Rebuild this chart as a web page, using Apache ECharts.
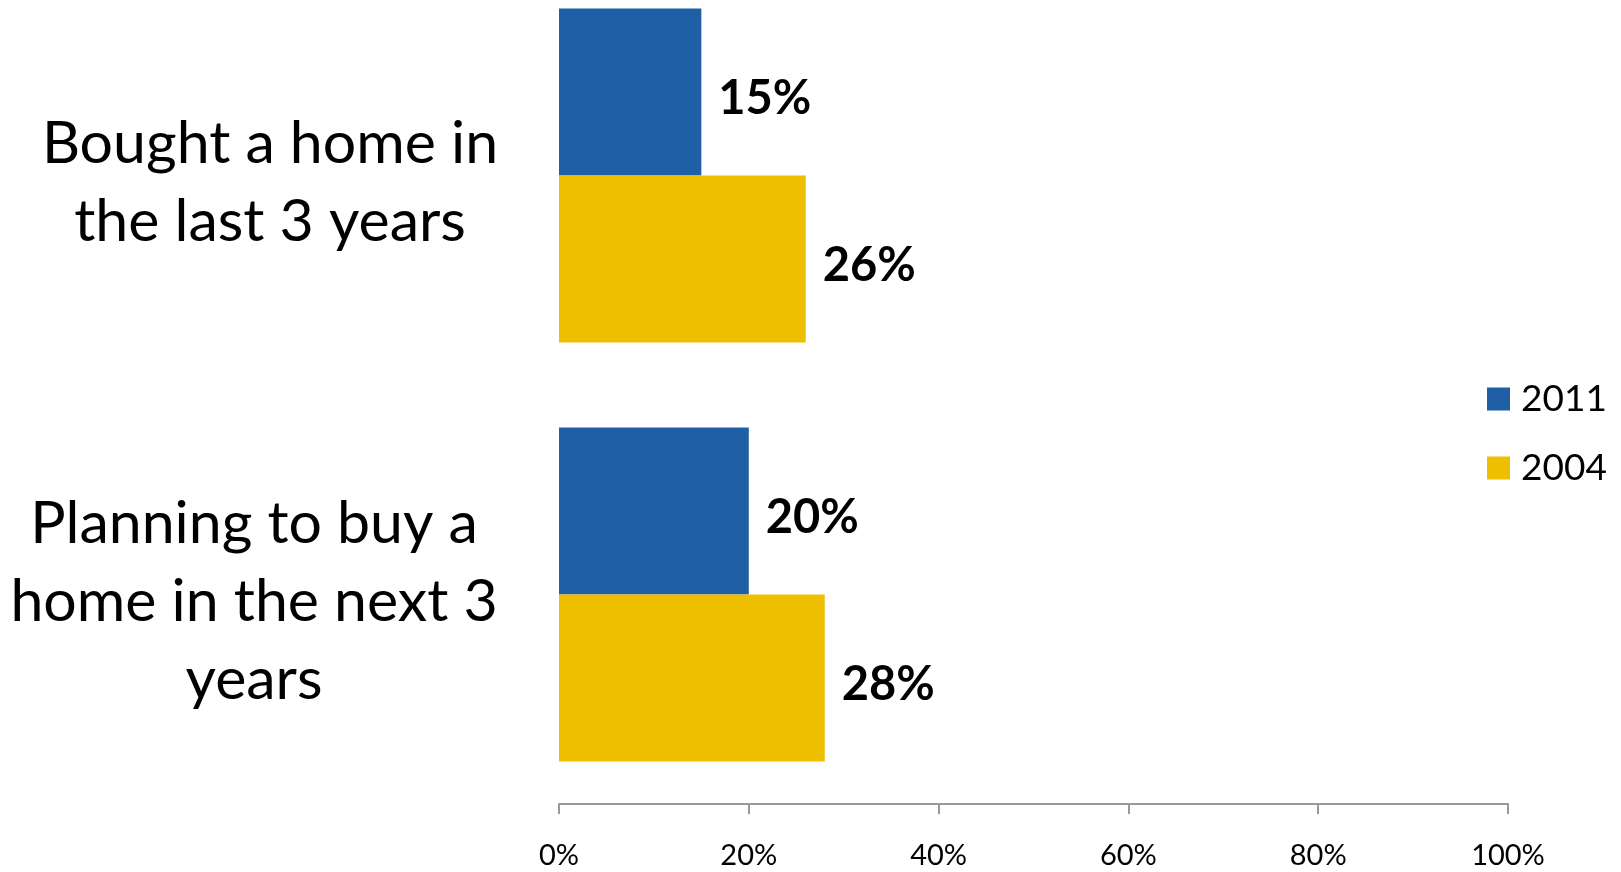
<!DOCTYPE html>
<html>
<head>
<meta charset="utf-8">
<title>Home buying, 2004 vs 2011</title>
<script src="https://cdn.jsdelivr.net/npm/echarts@6/dist/echarts.min.js"></script>
<style>
  html, body { margin: 0; padding: 0; background: #ffffff; }
  #chart { width: 1621px; height: 872px; }
</style>
</head>
<body>
<div id="chart"></div>
<script>
// Survey categories (top to bottom) and the share of respondents per year, in percent
const categories = [
  'Bought a home in\nthe last 3 years',
  'Planning to buy a\nhome in the next 3\nyears'
];
const values2011 = [15, 20];
const values2004 = [26, 28];
const seriesNames = ['2011', '2004'];
const axisTicks = [0, 20, 40, 60, 80, 100];

const FONT = 'Lato, "Open Sans", sans-serif';
const BLUE = '#1F5FA5';
const GOLD = '#EDBF00';

const chart = echarts.init(document.getElementById('chart'), null, { renderer: 'canvas' });

const barLabel = {
  show: true,
  position: 'right',
  distance: 17,
  offset: [0, 7],
  formatter: '{c}%',
  fontFamily: FONT,
  fontWeight: 'bold',
  fontSize: 47,
  color: '#000000'
};

// Category label style: lines centred within each wrapped block,
// with a thin spacer line on top to sit the block slightly below the bar centre
const catRich = {
  s: { fontSize: 1, lineHeight: 14, height: 14 },
  t: { fontFamily: FONT, fontSize: 59, lineHeight: 78, color: '#000000', align: 'center' }
};
const catLabel = {
  align: 'center',
  fontFamily: FONT,
  fontSize: 59,
  lineHeight: 78,
  color: '#000000',
  rich: catRich
};
function catFormatter(v) {
  return '{s| }\n' + v.split('\n').map(function (line) { return '{t|' + line + '}'; }).join('\n');
}

chart.setOption({
  animation: false,
  backgroundColor: '#ffffff',
  grid: { left: 559, right: 113, top: -34, bottom: 68, containLabel: false, outerBoundsMode: 'none' },
  legend: {
    orient: 'vertical',
    left: 1487,
    top: 379,
    padding: 0,
    data: seriesNames,
    icon: 'rect',
    itemWidth: 23,
    itemHeight: 23,
    itemGap: 29,
    textStyle: { fontFamily: FONT, fontSize: 37, lineHeight: 40, color: '#000000', padding: [0, 0, 0, 6] }
  },
  xAxis: {
    type: 'value',
    min: axisTicks[0],
    max: axisTicks[axisTicks.length - 1],
    interval: axisTicks[1] - axisTicks[0],
    axisLine: { show: true, lineStyle: { color: '#999999', width: 2 } },
    axisTick: { show: true, length: 10, lineStyle: { color: '#999999', width: 2 } },
    splitLine: { show: false },
    axisLabel: {
      margin: 37,
      fontFamily: FONT,
      fontSize: 29,
      color: '#000000',
      formatter: function (v) { return v + '%'; }
    }
  },
  yAxis: {
    type: 'category',
    inverse: true,
    data: [
      { value: categories[0], textStyle: Object.assign({}, catLabel, { padding: [0, 0, 0, 0] }) },
      { value: categories[1], textStyle: Object.assign({}, catLabel, { padding: [0, 32, 0, 0] }) }
    ],
    axisLine: { show: false },
    axisTick: { show: false },
    axisLabel: Object.assign({ margin: 289, formatter: catFormatter }, catLabel)
  },
  series: [
    {
      name: seriesNames[0],
      type: 'bar',
      data: values2011,
      itemStyle: { color: BLUE },
      barGap: '0%',
      barCategoryGap: '20.3%',
      label: barLabel
    },
    {
      name: seriesNames[1],
      type: 'bar',
      data: values2004,
      itemStyle: { color: GOLD },
      barGap: '0%',
      barCategoryGap: '20.3%',
      label: barLabel
    }
  ]
});
</script>
</body>
</html>
